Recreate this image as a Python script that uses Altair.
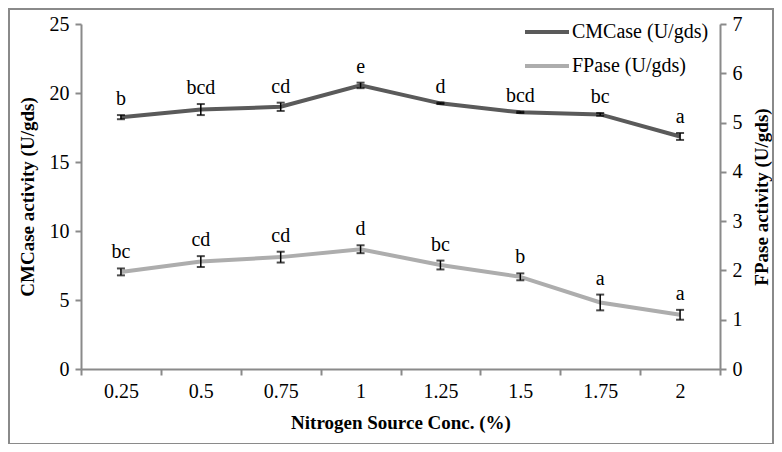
import altair as alt
import pandas as pd

conc = ["0.25", "0.5", "0.75", "1", "1.25", "1.5", "1.75", "2"]
cm = [18.25, 18.8, 19.0, 20.55, 19.25, 18.6, 18.45, 16.85]
cm_err = [0.15, 0.4, 0.3, 0.2, 0.05, 0.05, 0.1, 0.25]
cm_letters = ["b", "bcd", "cd", "e", "d", "bcd", "bc", "a"]
fp = [1.97, 2.18, 2.27, 2.43, 2.11, 1.87, 1.35, 1.1]
fp_err = [0.07, 0.11, 0.11, 0.08, 0.09, 0.07, 0.16, 0.1]
fp_letters = ["bc", "cd", "cd", "d", "bc", "b", "a", "a"]
series = ["CMCase (U/gds)", "FPase (U/gds)"]

DARK = "#5a5a5a"
LIGHT = "#adadad"
FONT = "Liberation Serif"

df = pd.DataFrame({
    "conc": conc,
    "cm": cm,
    "cm_lo": [v - e for v, e in zip(cm, cm_err)],
    "cm_hi": [v + e for v, e in zip(cm, cm_err)],
    "cm_letter": cm_letters,
    "fp": fp,
    "fp_lo": [v - e for v, e in zip(fp, fp_err)],
    "fp_hi": [v + e for v, e in zip(fp, fp_err)],
    "fp_letter": fp_letters,
    "s_cm": [series[0]] * len(conc),
    "s_fp": [series[1]] * len(conc),
})

xenc = alt.X(
    "conc:O", sort=conc,
    scale=alt.Scale(type="band", paddingInner=0, paddingOuter=0),
    axis=alt.Axis(title="Nitrogen Source Conc. (%)", labelAngle=0, tickBand="extent",
                  titlePadding=12),
)

color_scale = alt.Scale(domain=series, range=[DARK, LIGHT])
color_legend = alt.Legend(title=None, orient="none", legendX=442, legendY=-16,
                          symbolType="stroke", symbolStrokeWidth=4, symbolSize=1936,
                          labelFontSize=20, labelFont=FONT, labelColor="black",
                          rowPadding=-12, labelOffset=1)

base = alt.Chart(df)

cm_scale = alt.Scale(domain=[0, 25])
fp_scale = alt.Scale(domain=[0, 7])

cm_line = base.mark_line(strokeWidth=4).encode(
    x=xenc,
    y=alt.Y("cm:Q", scale=cm_scale,
            axis=alt.Axis(title="CMCase activity (U/gds)", values=[0, 5, 10, 15, 20, 25],
                          orient="left", titlePadding=12)),
    color=alt.Color("s_cm:N", scale=color_scale, legend=color_legend),
)
cm_rule = base.mark_rule(color="black", strokeWidth=1.5).encode(
    x=xenc, y=alt.Y("cm_lo:Q", scale=cm_scale), y2="cm_hi:Q")
cm_cap_lo = base.mark_tick(color="black", size=8, thickness=2).encode(
    x=xenc, y=alt.Y("cm_lo:Q", scale=cm_scale))
cm_cap_hi = base.mark_tick(color="black", size=8, thickness=2).encode(
    x=xenc, y=alt.Y("cm_hi:Q", scale=cm_scale))
cm_text = base.mark_text(baseline="bottom", dy=-6, fontSize=20, font=FONT, color="black").encode(
    x=xenc, y=alt.Y("cm_hi:Q", scale=cm_scale), text="cm_letter:N")

fp_line = base.mark_line(strokeWidth=4).encode(
    x=xenc,
    y=alt.Y("fp:Q", scale=fp_scale,
            axis=alt.Axis(title="FPase activity (U/gds)", values=[0, 1, 2, 3, 4, 5, 6, 7],
                          orient="right", titlePadding=10, titleAngle=270,
                          titleBaseline="top")),
    color=alt.Color("s_fp:N", scale=color_scale, legend=color_legend),
)
fp_rule = base.mark_rule(color="black", strokeWidth=1.5).encode(
    x=xenc, y=alt.Y("fp_lo:Q", scale=fp_scale), y2="fp_hi:Q")
fp_cap_lo = base.mark_tick(color="black", size=8, thickness=2).encode(
    x=xenc, y=alt.Y("fp_lo:Q", scale=fp_scale))
fp_cap_hi = base.mark_tick(color="black", size=8, thickness=2).encode(
    x=xenc, y=alt.Y("fp_hi:Q", scale=fp_scale))
fp_text = base.mark_text(baseline="bottom", dy=-6, fontSize=20, font=FONT, color="black").encode(
    x=xenc, y=alt.Y("fp_hi:Q", scale=fp_scale), text="fp_letter:N")

border = alt.Chart(pd.DataFrame({"a": [0]})).mark_rect(
    fill=None, stroke="#8a8a8a", strokeWidth=2, clip=False
).encode(x=alt.value(-72), x2=alt.value(692), y=alt.value(-15), y2=alt.value(420))

cm_layer = alt.layer(cm_line, cm_rule, cm_cap_lo, cm_cap_hi, cm_text)
fp_layer = alt.layer(fp_line, fp_rule, fp_cap_lo, fp_cap_hi, fp_text)

chart = alt.layer(cm_layer, fp_layer, border).resolve_scale(y="independent").properties(
    width=639, height=345,
    background="white",
    autosize=alt.AutoSizeParams(type="none"),
    padding={"left": 73, "top": 16, "right": 54, "bottom": 75},
).configure_view(stroke=None).configure_axis(
    domainColor="#8a8a8a", domainWidth=2, tickColor="#8a8a8a", tickWidth=2, tickSize=6,
    labelFont=FONT, labelFontSize=20, labelColor="black", labelPadding=6,
    titleFont=FONT, titleFontSize=19, titleFontWeight="bold", titleColor="black",
    grid=False,
)

chart.save("out.html", embed_options={"renderer": "svg", "actions": False})
